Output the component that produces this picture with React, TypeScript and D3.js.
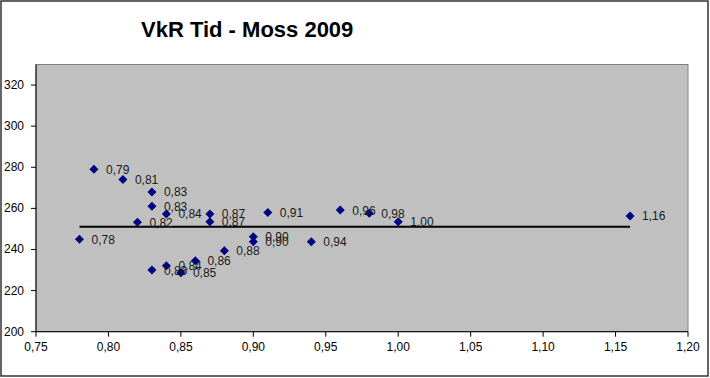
import React from "react";
import * as d3 from "d3";

const xValues = [0.78, 0.79, 0.81, 0.83, 0.83, 0.84, 0.82, 0.87, 0.87, 0.91, 0.96, 0.98, 1.0, 1.16, 0.9, 0.9, 0.94, 0.88, 0.86, 0.84, 0.83, 0.85];
const yValues = [245, 279, 274, 268, 261, 257.3, 253.2, 257.3, 253.5, 258, 259.2, 257.6, 253.5, 256.3, 246.2, 243.8, 243.8, 239.4, 234.5, 232.1, 230, 228.7];
const xTicks = [0.75, 0.8, 0.85, 0.9, 0.95, 1.0, 1.05, 1.1, 1.15, 1.2];
const yTicks = [200, 220, 240, 260, 280, 300, 320];
const trendX = [0.78, 1.16];
const trendY = [251.1, 251.1];
const title = "VkR Tid - Moss 2009";

const W = 710;
const H = 378;
const left = 36;
const right = 688;
const top = 64.5;
const bottom = 331.7;

const fmt = (v: number) => v.toFixed(2).replace(".", ",");

export default function App() {
  const x = d3.scaleLinear().domain([0.75, 1.2]).range([left, right]);
  const y = d3.scaleLinear().domain([200, 330]).range([bottom, top]);
  const line = d3
    .line<number>()
    .x((d, i) => x(trendX[i]))
    .y((d) => y(d));
  const font = "Arial, 'Liberation Sans', sans-serif";
  const diamond = (cx: number, cy: number) =>
    `M${cx},${cy - 4.5}L${cx + 4.5},${cy}L${cx},${cy + 4.5}L${cx - 4.5},${cy}Z`;

  return (
    <svg
      width={W}
      height={H}
      style={{ position: "absolute", left: 0, top: 0, background: "#fff" }}
      fontFamily={font}
    >
      <rect x={1} y={1} width={W - 3} height={H - 3} fill="#fff" stroke="#333" strokeWidth={1.5} />
      <text x={141} y={37} fontSize={22} fontWeight="bold" fill="#000">
        {title}
      </text>
      <rect x={left} y={top} width={right - left} height={bottom - top} fill="#C0C0C0" stroke="#808080" strokeWidth={1} />
      {/* axes */}
      <line x1={left} x2={left} y1={top} y2={bottom} stroke="#000" />
      <line x1={left} x2={right} y1={bottom} y2={bottom} stroke="#000" />
      {yTicks.map((t) => (
        <g key={"y" + t}>
          <line x1={left - 5} x2={left} y1={y(t)} y2={y(t)} stroke="#000" />
          <text x={24} y={y(t) + 4} fontSize={12} textAnchor="end" fill="#000">
            {t}
          </text>
        </g>
      ))}
      {xTicks.map((t) => (
        <g key={"x" + t}>
          <line x1={x(t)} x2={x(t)} y1={bottom} y2={bottom + 5} stroke="#000" />
          <text x={x(t)} y={351} fontSize={12} textAnchor="middle" fill="#000">
            {fmt(t)}
          </text>
        </g>
      ))}
      <path d={line(trendY) || ""} stroke="#000" strokeWidth={2} fill="none" />
      {xValues.map((xv, i) => (
        <path key={"p" + i} d={diamond(x(xv), y(yValues[i]))} fill="#000080" />
      ))}
      {xValues.map((xv, i) => (
        <text key={"l" + i} x={x(xv) + 12} y={y(yValues[i]) + 4.5} fontSize={12} fill="#1a1a1a">
          {fmt(xv)}
        </text>
      ))}
    </svg>
  );
}
